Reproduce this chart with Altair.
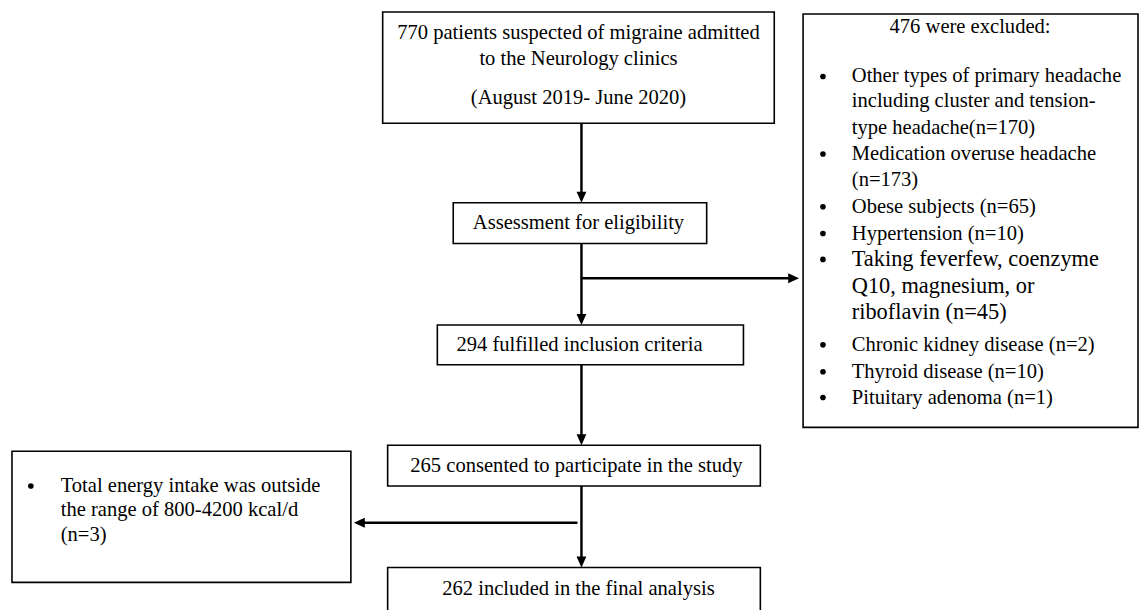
import altair as alt
import pandas as pd

# ---------------- content ----------------
top_lines = ["770 patients suspected of migraine admitted",
             "to the Neurology clinics",
             "(August 2019- June 2020)"]
elig_text = "Assessment for eligibility"
incl_text = "294 fulfilled inclusion criteria"
consent_text = "265 consented to participate in the study"
final_text = "262 included in the final analysis"
excl_title = "476 were excluded:"
excl_items = [
    ["Other types of primary headache", "including cluster and tension-", "type headache(n=170)"],
    ["Medication overuse headache", "(n=173)"],
    ["Obese subjects (n=65)"],
    ["Hypertension (n=10)"],
    ["Taking feverfew, coenzyme", "Q10, magnesium, or", "riboflavin (n=45)"],
    ["Chronic kidney disease (n=2)"],
    ["Thyroid disease (n=10)"],
    ["Pituitary adenoma (n=1)"],
]
energy_items = [["Total energy intake was outside", "the range of 800-4200 kcal/d", "(n=3)"]]

# ---------------- layout (page pixel coordinates) ----------------
box_x1 = [385, 456, 440, 808, 390, 12, 390]
box_y1 = [10, 202, 325, 12, 446, 452, 569]
box_x2 = [779, 711, 748, 1145, 765, 353, 765]
box_y2 = [122, 243, 365, 428, 487, 584, 640]

line_x1 = [585, 585, 585, 585, 585, 581]
line_y1 = [122, 243, 278, 365, 487, 524]
line_x2 = [585, 585, 796, 585, 585, 364]
line_y2 = [196, 319, 278, 440, 563, 524]

down_x = [585, 585, 585, 585]
down_y = [202, 325, 446, 569]
right_x = [804]
right_y = [278]
left_x = [356]
left_y = [524]

excl_line_y = [[75, 100, 127], [153, 179], [206], [233], [259, 286, 312], [345], [372], [398]]
excl_font = [20.7, 20.7, 20.7, 20.7, 22.5, 20.7, 20.7, 20.7]
energy_line_y = [[487, 511, 536]]

FONT = "Liberation Serif"
FS = 20.7

# ---------------- data frames ----------------
boxes = pd.DataFrame({"x": box_x1, "y": box_y1, "x2": box_x2, "y2": box_y2})
lines = pd.DataFrame({"x": line_x1, "y": line_y1, "x2": line_x2, "y2": line_y2})

center_rows = []
for t, yy in zip(top_lines, [31, 57, 97]):
    center_rows.append({"x": 582, "y": yy, "text": t, "fs": FS})
center_rows.append({"x": 582, "y": 222, "text": elig_text, "fs": FS})
center_rows.append({"x": 583, "y": 345, "text": incl_text, "fs": FS})
center_rows.append({"x": 580, "y": 467, "text": consent_text, "fs": FS})
center_rows.append({"x": 582, "y": 591, "text": final_text, "fs": FS})
center_rows.append({"x": 976, "y": 25, "text": excl_title, "fs": FS})
center_df = pd.DataFrame(center_rows)

left_rows = []
bullet_rows = []
for item, ys, fs in zip(excl_items, excl_line_y, excl_font):
    bullet_rows.append({"x": 828, "y": ys[0]})
    for t, yy in zip(item, ys):
        left_rows.append({"x": 857, "y": yy, "text": t, "fs": fs})
for item, ys in zip(energy_items, energy_line_y):
    bullet_rows.append({"x": 31, "y": ys[0]})
    for t, yy in zip(item, ys):
        left_rows.append({"x": 61, "y": yy, "text": t, "fs": FS})
left_df = pd.DataFrame(left_rows)
bullet_df = pd.DataFrame(bullet_rows)

down_df = pd.DataFrame({"x": down_x, "y": down_y})
right_df = pd.DataFrame({"x": right_x, "y": right_y})
left_arrow_df = pd.DataFrame({"x": left_x, "y": left_y})

# ---------------- scales ----------------
xs = alt.Scale(domain=[8, 1139])
ys = alt.Scale(domain=[8, 602], reverse=True)

def X(f="x"):
    return alt.X(f"{f}:Q", scale=xs, axis=None)

def Y(f="y"):
    return alt.Y(f"{f}:Q", scale=ys, axis=None)

rects = alt.Chart(boxes).mark_rect(fill="white", stroke="black", strokeWidth=1.6).encode(
    x=X(), x2="x2:Q", y=Y(), y2="y2:Q")

rules = alt.Chart(lines).mark_rule(color="black", strokeWidth=2.5).encode(
    x=X(), x2="x2:Q", y=Y(), y2="y2:Q")

down_heads = alt.Chart(down_df).mark_point(
    shape="M-0.9,-2L0.9,-2L0,0Z", size=121, filled=True, opacity=1,
    color="black", strokeWidth=0).encode(x=X(), y=Y())
right_heads = alt.Chart(right_df).mark_point(
    shape="M-2,-0.9L-2,0.9L0,0Z", size=121, filled=True, opacity=1,
    color="black", strokeWidth=0).encode(x=X(), y=Y())
left_heads = alt.Chart(left_arrow_df).mark_point(
    shape="M2,-0.9L2,0.9L0,0Z", size=121, filled=True, opacity=1,
    color="black", strokeWidth=0).encode(x=X(), y=Y())

bullets = alt.Chart(bullet_df).mark_point(
    shape="circle", size=32, filled=True, opacity=1, color="black", strokeWidth=0).encode(
    x=X(), y=Y())

center_text = alt.Chart(center_df).mark_text(
    font=FONT, color="black", align="center", baseline="middle").encode(
    x=X(), y=Y(), text="text:N", size=alt.Size("fs:Q", scale=None, legend=None))

left_text = alt.Chart(left_df).mark_text(
    font=FONT, color="black", align="left", baseline="middle").encode(
    x=X(), y=Y(), text="text:N", size=alt.Size("fs:Q", scale=None, legend=None))

chart = alt.layer(rects, rules, down_heads, right_heads, left_heads, bullets,
                  center_text, left_text).properties(
    width=1131, height=594, padding=0, background="white"
).configure_view(stroke=None)

chart.save("out.html", embed_options={"renderer": "svg", "actions": False})
